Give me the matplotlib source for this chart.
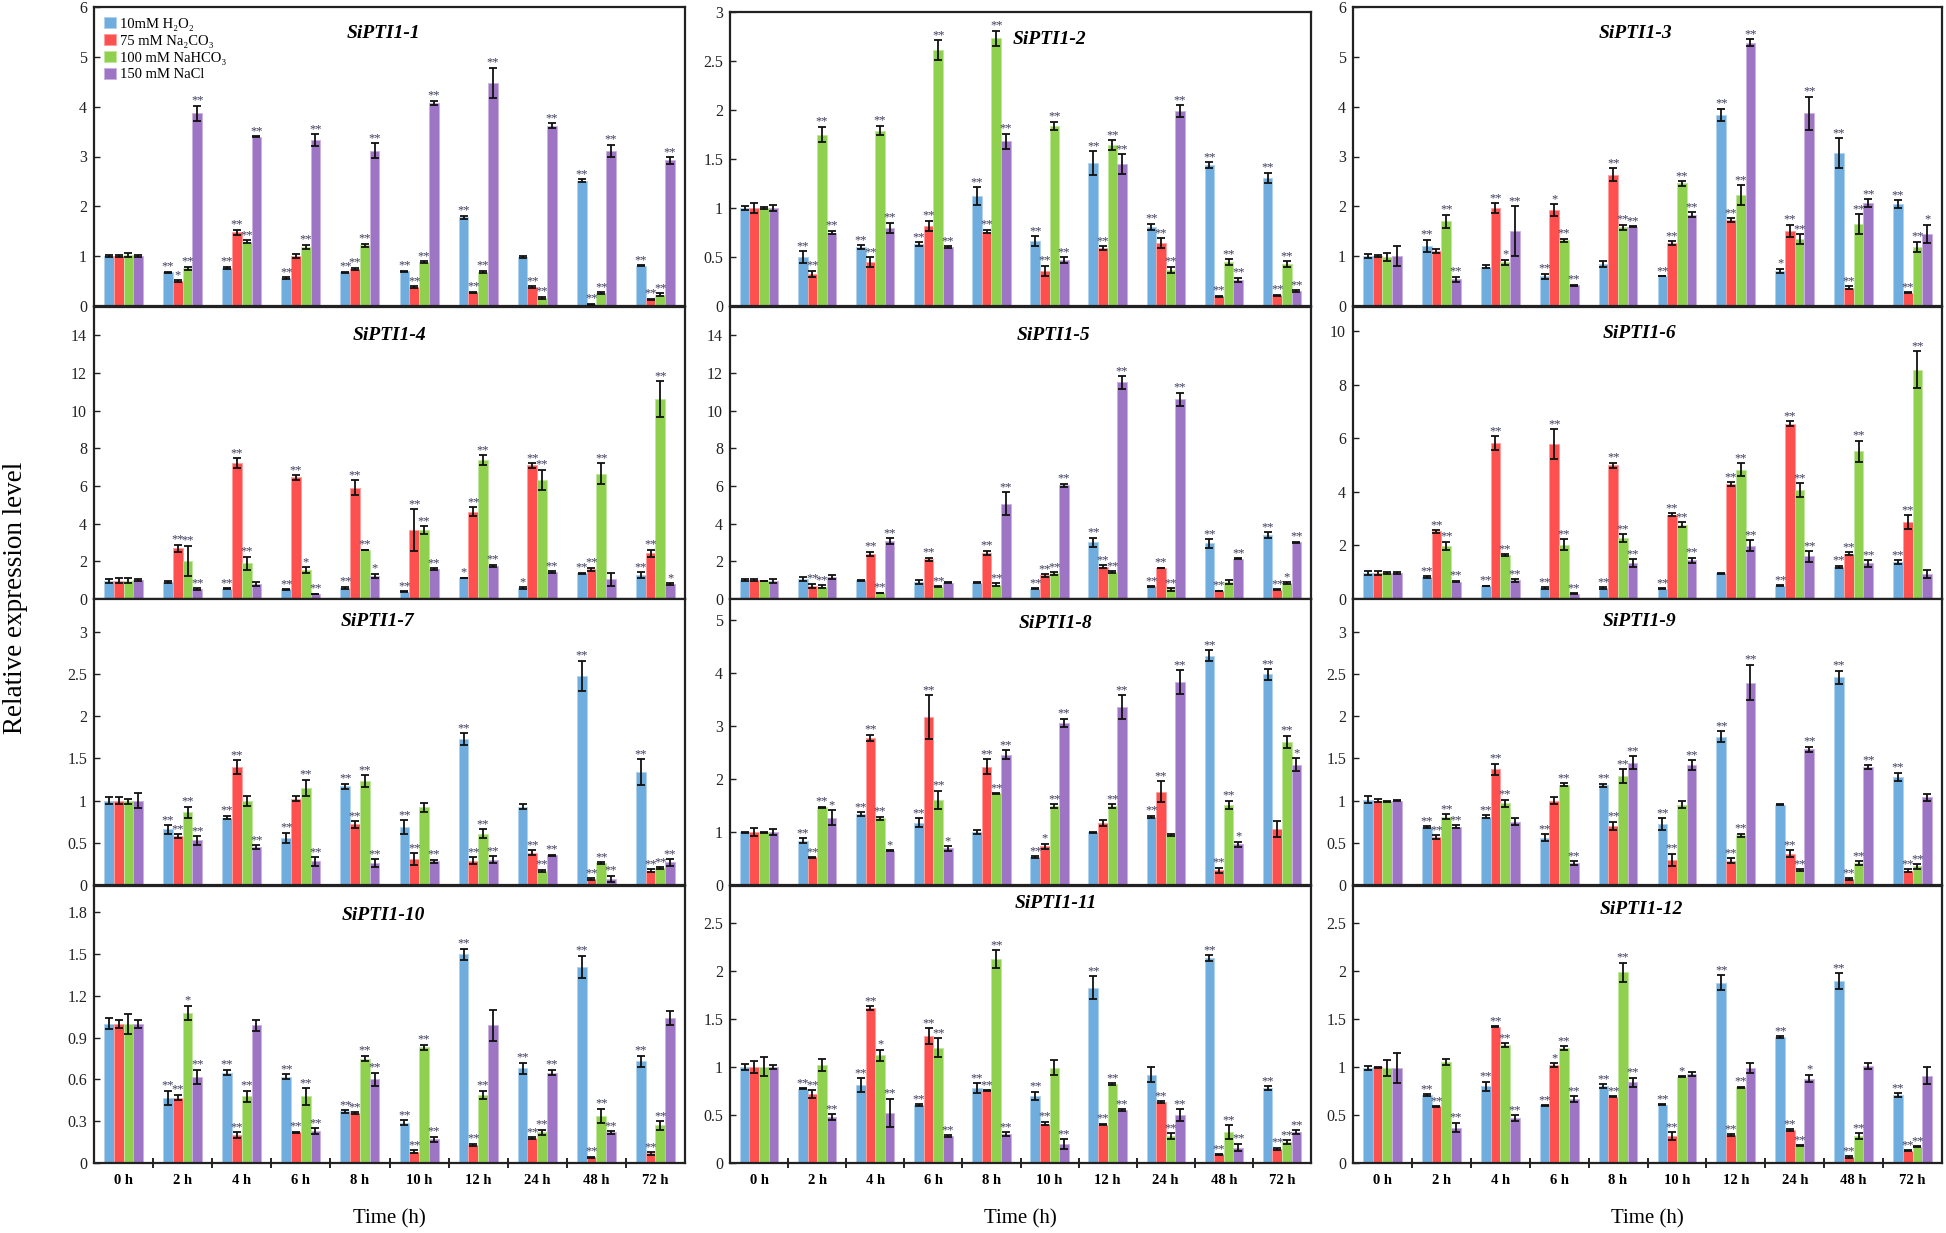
import numpy as np
import matplotlib
matplotlib.use('Agg')
import matplotlib.pyplot as plt
from matplotlib.colors import to_rgb

plt.rcParams['font.family'] = ['Liberation Serif', 'DejaVu Serif']

# ---------------- data ----------------
times = ['0 h', '2 h', '4 h', '6 h', '8 h', '10 h', '12 h', '24 h', '48 h', '72 h']
treatments = ['10mM H\u2082O\u2082', '75 mM Na\u2082CO\u2083', '100 mM NaHCO\u2083', '150 mM NaCl']
genes = ['SiPTI1-1', 'SiPTI1-2', 'SiPTI1-3', 'SiPTI1-4', 'SiPTI1-5', 'SiPTI1-6',
         'SiPTI1-7', 'SiPTI1-8', 'SiPTI1-9', 'SiPTI1-10', 'SiPTI1-11', 'SiPTI1-12']

g1_mean = [[1.00, 0.68, 0.77, 0.56, 0.68, 0.70, 1.78, 0.98, 2.51, 0.81],
           [1.00, 0.50, 1.48, 1.01, 0.75, 0.38, 0.28, 0.38, 0.04, 0.14],
           [1.02, 0.76, 1.29, 1.19, 1.22, 0.88, 0.69, 0.17, 0.26, 0.23],
           [1.00, 3.87, 3.40, 3.33, 3.12, 4.08, 4.48, 3.62, 3.12, 2.92]]
g1_err = [[0.02, 0.01, 0.02, 0.02, 0.01, 0.01, 0.03, 0.02, 0.03, 0.01],
          [0.02, 0.02, 0.05, 0.04, 0.02, 0.02, 0.01, 0.02, 0.01, 0.01],
          [0.04, 0.03, 0.03, 0.04, 0.03, 0.02, 0.02, 0.02, 0.02, 0.03],
          [0.02, 0.15, 0.01, 0.12, 0.15, 0.04, 0.30, 0.05, 0.12, 0.07]]
g1_sig = ['0222222022', '0120222222', '0222222222', '0222222222']

g2_mean = [[1.00, 0.50, 0.60, 0.63, 1.12, 0.66, 1.46, 0.81, 1.44, 1.31],
           [1.00, 0.33, 0.45, 0.82, 0.76, 0.36, 0.59, 0.64, 0.10, 0.11],
           [1.00, 1.75, 1.79, 2.61, 2.73, 1.84, 1.64, 0.37, 0.45, 0.43],
           [1.00, 0.75, 0.80, 0.60, 1.68, 0.47, 1.45, 1.99, 0.27, 0.15]]
g2_err = [[0.02, 0.06, 0.02, 0.02, 0.09, 0.05, 0.12, 0.03, 0.03, 0.05],
          [0.05, 0.03, 0.05, 0.05, 0.02, 0.05, 0.02, 0.05, 0.005, 0.005],
          [0.01, 0.08, 0.05, 0.10, 0.08, 0.04, 0.05, 0.03, 0.03, 0.03],
          [0.03, 0.02, 0.05, 0.01, 0.08, 0.03, 0.10, 0.06, 0.02, 0.01]]
g2_sig = ['0222222222', '0222222222', '0222222222', '0222222222']

g3_mean = [[1.00, 1.21, 0.79, 0.60, 0.84, 0.60, 3.84, 0.71, 3.07, 2.04],
           [1.00, 1.10, 1.96, 1.93, 2.63, 1.26, 1.72, 1.51, 0.37, 0.27],
           [0.98, 1.70, 0.88, 1.32, 1.58, 2.46, 2.22, 1.34, 1.64, 1.19],
           [1.00, 0.54, 1.51, 0.42, 1.59, 1.83, 5.28, 3.87, 2.06, 1.45]]
g3_err = [[0.04, 0.12, 0.03, 0.05, 0.06, 0.005, 0.12, 0.04, 0.30, 0.08],
          [0.02, 0.04, 0.10, 0.12, 0.13, 0.04, 0.04, 0.12, 0.03, 0.01],
          [0.08, 0.13, 0.05, 0.03, 0.05, 0.05, 0.20, 0.10, 0.20, 0.10],
          [0.20, 0.05, 0.50, 0.01, 0.01, 0.05, 0.07, 0.33, 0.08, 0.18]]
g3_sig = ['0202022122', '0021222222', '0212222222', '0222222221']

g4_mean = [[0.95, 0.92, 0.55, 0.51, 0.60, 0.39, 1.11, 0.58, 1.36, 1.26],
           [0.98, 2.69, 7.23, 6.45, 5.90, 3.66, 4.63, 7.09, 1.57, 2.42],
           [0.98, 2.03, 1.89, 1.54, 2.60, 3.66, 7.37, 6.31, 6.66, 10.60],
           [1.00, 0.51, 0.80, 0.27, 1.22, 1.57, 1.77, 1.41, 1.04, 0.78]]
g4_err = [[0.10, 0.05, 0.02, 0.02, 0.05, 0.02, 0.02, 0.05, 0.03, 0.15],
          [0.15, 0.20, 0.25, 0.12, 0.40, 1.10, 0.25, 0.12, 0.10, 0.20],
          [0.15, 0.80, 0.35, 0.15, 0.02, 0.20, 0.25, 0.55, 0.55, 0.95],
          [0.05, 0.05, 0.10, 0.02, 0.12, 0.05, 0.05, 0.05, 0.35, 0.05]]
g4_sig = ['0022221122', '0222222222', '0221222222', '0202122201']

g5_mean = [[1.00, 1.08, 0.99, 0.90, 0.87, 0.55, 3.00, 0.67, 2.95, 3.40],
           [1.00, 0.71, 2.39, 2.12, 2.44, 1.26, 1.71, 1.64, 0.42, 0.50],
           [0.95, 0.65, 0.32, 0.65, 0.76, 1.36, 1.43, 0.51, 0.90, 0.85],
           [0.97, 1.18, 3.09, 0.87, 5.06, 6.03, 11.50, 10.60, 2.14, 3.00]]
g5_err = [[0.05, 0.10, 0.03, 0.10, 0.03, 0.01, 0.25, 0.02, 0.22, 0.15],
          [0.05, 0.10, 0.12, 0.08, 0.12, 0.07, 0.08, 0.02, 0.02, 0.02],
          [0.02, 0.08, 0.01, 0.02, 0.07, 0.07, 0.03, 0.08, 0.10, 0.03],
          [0.10, 0.12, 0.15, 0.03, 0.60, 0.10, 0.33, 0.35, 0.02, 0.05]]
g5_sig = ['0000022222', '0222222222', '0222222201', '0020222222']

g6_mean = [[0.98, 0.81, 0.49, 0.41, 0.41, 0.39, 0.96, 0.50, 1.19, 1.38],
           [0.98, 2.53, 5.83, 5.78, 4.99, 3.15, 4.29, 6.55, 1.69, 2.88],
           [0.98, 1.99, 1.65, 2.03, 2.28, 2.78, 4.83, 4.07, 5.51, 8.56],
           [0.98, 0.65, 0.70, 0.20, 1.33, 1.44, 1.99, 1.59, 1.33, 0.94]]
g6_err = [[0.08, 0.03, 0.01, 0.02, 0.02, 0.01, 0.02, 0.02, 0.05, 0.08],
          [0.08, 0.05, 0.25, 0.55, 0.10, 0.05, 0.08, 0.10, 0.05, 0.25],
          [0.03, 0.15, 0.03, 0.20, 0.15, 0.10, 0.25, 0.25, 0.40, 0.70],
          [0.03, 0.03, 0.05, 0.02, 0.15, 0.10, 0.20, 0.20, 0.12, 0.15]]
g6_sig = ['0222220222', '0222222222', '0222222222', '0222222220']

g7_mean = [[1.00, 0.66, 0.80, 0.56, 1.17, 0.69, 1.73, 0.93, 2.48, 1.34],
           [1.00, 0.58, 1.40, 1.02, 0.72, 0.31, 0.29, 0.38, 0.07, 0.17],
           [0.99, 0.86, 1.00, 1.15, 1.23, 0.92, 0.61, 0.17, 0.26, 0.20],
           [1.00, 0.53, 0.45, 0.28, 0.26, 0.28, 0.30, 0.35, 0.07, 0.27]]
g7_err = [[0.04, 0.05, 0.02, 0.06, 0.03, 0.08, 0.07, 0.03, 0.18, 0.15],
          [0.04, 0.02, 0.08, 0.03, 0.04, 0.07, 0.04, 0.03, 0.01, 0.02],
          [0.03, 0.07, 0.06, 0.10, 0.07, 0.05, 0.05, 0.01, 0.01, 0.01],
          [0.09, 0.05, 0.02, 0.05, 0.05, 0.02, 0.04, 0.01, 0.04, 0.04]]
g7_sig = ['0222222022', '0220222222', '0202202222', '0222222222']

g8_mean = [[1.00, 0.84, 1.34, 1.18, 1.00, 0.53, 1.00, 1.29, 4.33, 3.98],
           [1.00, 0.52, 2.78, 3.17, 2.23, 0.73, 1.17, 1.76, 0.28, 1.05],
           [1.00, 1.47, 1.26, 1.61, 1.73, 1.49, 1.49, 0.94, 1.51, 2.70],
           [1.00, 1.27, 0.65, 0.69, 2.46, 3.06, 3.36, 3.83, 0.77, 2.27]]
g8_err = [[0.01, 0.04, 0.04, 0.08, 0.04, 0.02, 0.01, 0.02, 0.11, 0.10],
          [0.08, 0.01, 0.06, 0.42, 0.14, 0.05, 0.05, 0.20, 0.05, 0.15],
          [0.01, 0.01, 0.03, 0.17, 0.01, 0.03, 0.03, 0.02, 0.08, 0.12],
          [0.05, 0.14, 0.01, 0.04, 0.08, 0.08, 0.23, 0.23, 0.05, 0.12]]
g8_sig = ['0222020222', '0222210220', '0222222022', '0111222211']

g9_mean = [[1.01, 0.69, 0.81, 0.56, 1.18, 0.72, 1.76, 0.95, 2.46, 1.28],
           [1.00, 0.57, 1.37, 1.00, 0.70, 0.30, 0.29, 0.37, 0.07, 0.17],
           [0.99, 0.81, 0.97, 1.19, 1.29, 0.95, 0.59, 0.18, 0.26, 0.22],
           [1.00, 0.69, 0.75, 0.26, 1.45, 1.42, 2.40, 1.61, 1.40, 1.04]]
g9_err = [[0.04, 0.01, 0.02, 0.04, 0.02, 0.07, 0.06, 0.005, 0.08, 0.05],
          [0.02, 0.02, 0.07, 0.04, 0.05, 0.07, 0.03, 0.04, 0.01, 0.02],
          [0.01, 0.03, 0.04, 0.02, 0.08, 0.04, 0.02, 0.01, 0.02, 0.03],
          [0.01, 0.02, 0.04, 0.02, 0.08, 0.06, 0.21, 0.03, 0.02, 0.04]]
g9_sig = ['0222222022', '0220222222', '0222202222', '0202222220']

g10_mean = [[1.00, 0.47, 0.65, 0.62, 0.37, 0.29, 1.50, 0.68, 1.41, 0.73],
            [1.00, 0.47, 0.20, 0.22, 0.36, 0.08, 0.13, 0.18, 0.04, 0.07],
            [1.00, 1.08, 0.48, 0.48, 0.75, 0.83, 0.49, 0.22, 0.34, 0.27],
            [1.00, 0.62, 0.99, 0.23, 0.60, 0.17, 0.99, 0.65, 0.22, 1.04]]
g10_err = [[0.04, 0.05, 0.02, 0.02, 0.01, 0.02, 0.04, 0.04, 0.08, 0.04],
           [0.03, 0.02, 0.02, 0.005, 0.005, 0.01, 0.01, 0.005, 0.005, 0.01],
           [0.07, 0.05, 0.04, 0.06, 0.02, 0.02, 0.03, 0.02, 0.05, 0.03],
           [0.03, 0.05, 0.04, 0.02, 0.05, 0.02, 0.11, 0.02, 0.01, 0.05]]
g10_sig = ['0222222222', '0222222222', '0122222222', '0202220220']

g11_mean = [[1.00, 0.77, 0.81, 0.60, 0.78, 0.70, 1.82, 0.92, 2.13, 0.78],
            [1.00, 0.72, 1.61, 1.32, 0.75, 0.41, 0.40, 0.63, 0.09, 0.15],
            [1.00, 1.02, 1.12, 1.20, 2.12, 0.99, 0.82, 0.28, 0.32, 0.22],
            [1.00, 0.48, 0.52, 0.28, 0.30, 0.20, 0.55, 0.50, 0.16, 0.32]]
g11_err = [[0.03, 0.005, 0.07, 0.01, 0.05, 0.04, 0.12, 0.08, 0.03, 0.02],
           [0.06, 0.04, 0.02, 0.08, 0.005, 0.02, 0.01, 0.01, 0.005, 0.01],
           [0.10, 0.06, 0.06, 0.10, 0.09, 0.08, 0.01, 0.03, 0.07, 0.02],
           [0.02, 0.03, 0.15, 0.01, 0.02, 0.05, 0.01, 0.06, 0.04, 0.02]]
g11_sig = ['0222222022', '0222222222', '0012202222', '0222222222']

g12_mean = [[0.99, 0.71, 0.80, 0.60, 0.80, 0.61, 1.88, 1.31, 1.90, 0.71],
            [1.00, 0.59, 1.42, 1.02, 0.69, 0.28, 0.29, 0.34, 0.06, 0.13],
            [0.99, 1.05, 1.23, 1.20, 1.99, 0.90, 0.79, 0.18, 0.28, 0.17],
            [0.99, 0.37, 0.47, 0.67, 0.84, 0.93, 0.99, 0.88, 1.01, 0.91]]
g12_err = [[0.02, 0.01, 0.05, 0.005, 0.02, 0.005, 0.08, 0.01, 0.08, 0.02],
           [0.005, 0.005, 0.005, 0.02, 0.005, 0.04, 0.01, 0.01, 0.01, 0.005],
           [0.08, 0.03, 0.02, 0.02, 0.10, 0.005, 0.005, 0.005, 0.03, 0.005],
           [0.16, 0.05, 0.03, 0.03, 0.05, 0.02, 0.05, 0.04, 0.03, 0.09]]
g12_sig = ['0222222222', '0221222222', '0022212222', '0222200100']

# y-axis ranges and tick steps per panel
y_top = [6, 3, 6, 15.5, 15.5, 10.9, 3.39, 5.4, 3.39, 1.99, 2.88, 2.89]
y_tickmax = [6, 3, 6, 14, 14, 10, 3, 5, 3, 1.8, 2.5, 2.5]
y_step = [1, 0.5, 1, 2, 2, 2, 0.5, 1, 0.5, 0.3, 0.5, 0.5]

means = [g1_mean, g2_mean, g3_mean, g4_mean, g5_mean, g6_mean,
         g7_mean, g8_mean, g9_mean, g10_mean, g11_mean, g12_mean]
errs = [g1_err, g2_err, g3_err, g4_err, g5_err, g6_err,
        g7_err, g8_err, g9_err, g10_err, g11_err, g12_err]
sigs = [g1_sig, g2_sig, g3_sig, g4_sig, g5_sig, g6_sig,
        g7_sig, g8_sig, g9_sig, g10_sig, g11_sig, g12_sig]

# ---------------- style / layout ----------------
colors = ['#6FADDE', '#FF5050', '#8FD14F', '#9E74C4']
W, H = 1946, 1233
col_x = [(94, 685), (730, 1311), (1353, 1942)]
row_y = [(7, 306), (307, 599), (599, 885), (886, 1163)]
title_pos = [(0.49, 26), (0.55, 28), (0.48, 26), (0.50, 28), (0.556, 28), (0.486, 26),
             (0.48, 23), (0.56, 25), (0.486, 23), (0.49, 30), (0.56, 17), (0.49, 23)]

fig = plt.figure(figsize=(W / 100, H / 100), dpi=100)
fig.patch.set_facecolor('white')

bw = 0.165
x = np.arange(len(times))


def lighter(c, f=0.45):
    r, g, b = to_rgb(c)
    return (r + (1 - r) * f, g + (1 - g) * f, b + (1 - b) * f)


legend_handles = None
for p in range(12):
    r, c = divmod(p, 3)
    x0, x1 = col_x[c]
    y0, y1 = row_y[r]
    if p == 1:
        y0 = 12
    ax = fig.add_axes([x0 / W, 1 - y1 / H, (x1 - x0) / W, (y1 - y0) / H])
    handles = []
    for k in range(4):
        m = np.array(means[p][k])
        e = np.array(errs[p][k])
        xs = x + (k - 1.5) * bw
        bars = ax.bar(xs, m, width=bw, color=colors[k], edgecolor=lighter(colors[k]),
                      linewidth=0.7, zorder=2)
        handles.append(bars)
        ax.errorbar(xs, m, yerr=e, fmt='none', ecolor='#111111', elinewidth=1.3,
                    capsize=3.0, capthick=1.3, zorder=3)
        for i, s in enumerate(sigs[p][k]):
            if s == '0':
                continue
            ax.annotate('*' * int(s), xy=(xs[i], m[i] + e[i]), xytext=(0, 2),
                        textcoords='offset pixels', ha='center', va='baseline',
                        fontsize=9, color='#3d3d5c', zorder=4)
    if p == 0:
        legend_handles = handles
    ax.set_xlim(-0.5, len(times) - 0.5)
    ax.set_ylim(0, y_top[p])
    ticks = np.round(np.arange(0, y_tickmax[p] + 1e-9, y_step[p]), 2)
    ax.set_yticks(ticks)
    ax.set_yticklabels([f'{t:g}' for t in ticks])
    ax.tick_params(axis='y', direction='in', length=4, width=1.0, labelsize=11.5,
                   pad=5, colors='#222222')
    if r == 3:
        ax.set_xticks(x)
        ax.set_xticklabels(times, fontsize=10.5, fontweight='bold')
        ax.set_xticks(np.arange(0.5, len(times) - 1, 1.0), minor=True)
        ax.tick_params(axis='x', which='major', length=0, pad=8)
        ax.tick_params(axis='x', which='minor', direction='inout', length=7, width=1.2)
        ax.set_xlabel('Time (h)', fontsize=15, labelpad=16)
    else:
        ax.set_xticks([])
    for sp in ax.spines.values():
        sp.set_linewidth(1.6)
        sp.set_color('#222222')
    fx, dy = title_pos[p]
    ax.annotate(genes[p], xy=(fx, 1.0), xycoords='axes fraction', xytext=(0, -dy),
                textcoords='offset pixels', ha='center', va='center',
                fontsize=14, fontweight='bold', fontstyle='italic')
    if p == 0:
        ax.legend(legend_handles, treatments, loc='upper left', bbox_to_anchor=(0.0, 1.0),
                  frameon=False, fontsize=10.5, handlelength=0.8, handleheight=0.8,
                  handletextpad=0.3, labelspacing=0.22, borderaxespad=0.3)

fig.text(0.008, 0.515, 'Relative expression level', rotation=90, ha='center',
         va='center', fontsize=19.5)

fig.savefig('out.png', dpi=100, facecolor='white')
